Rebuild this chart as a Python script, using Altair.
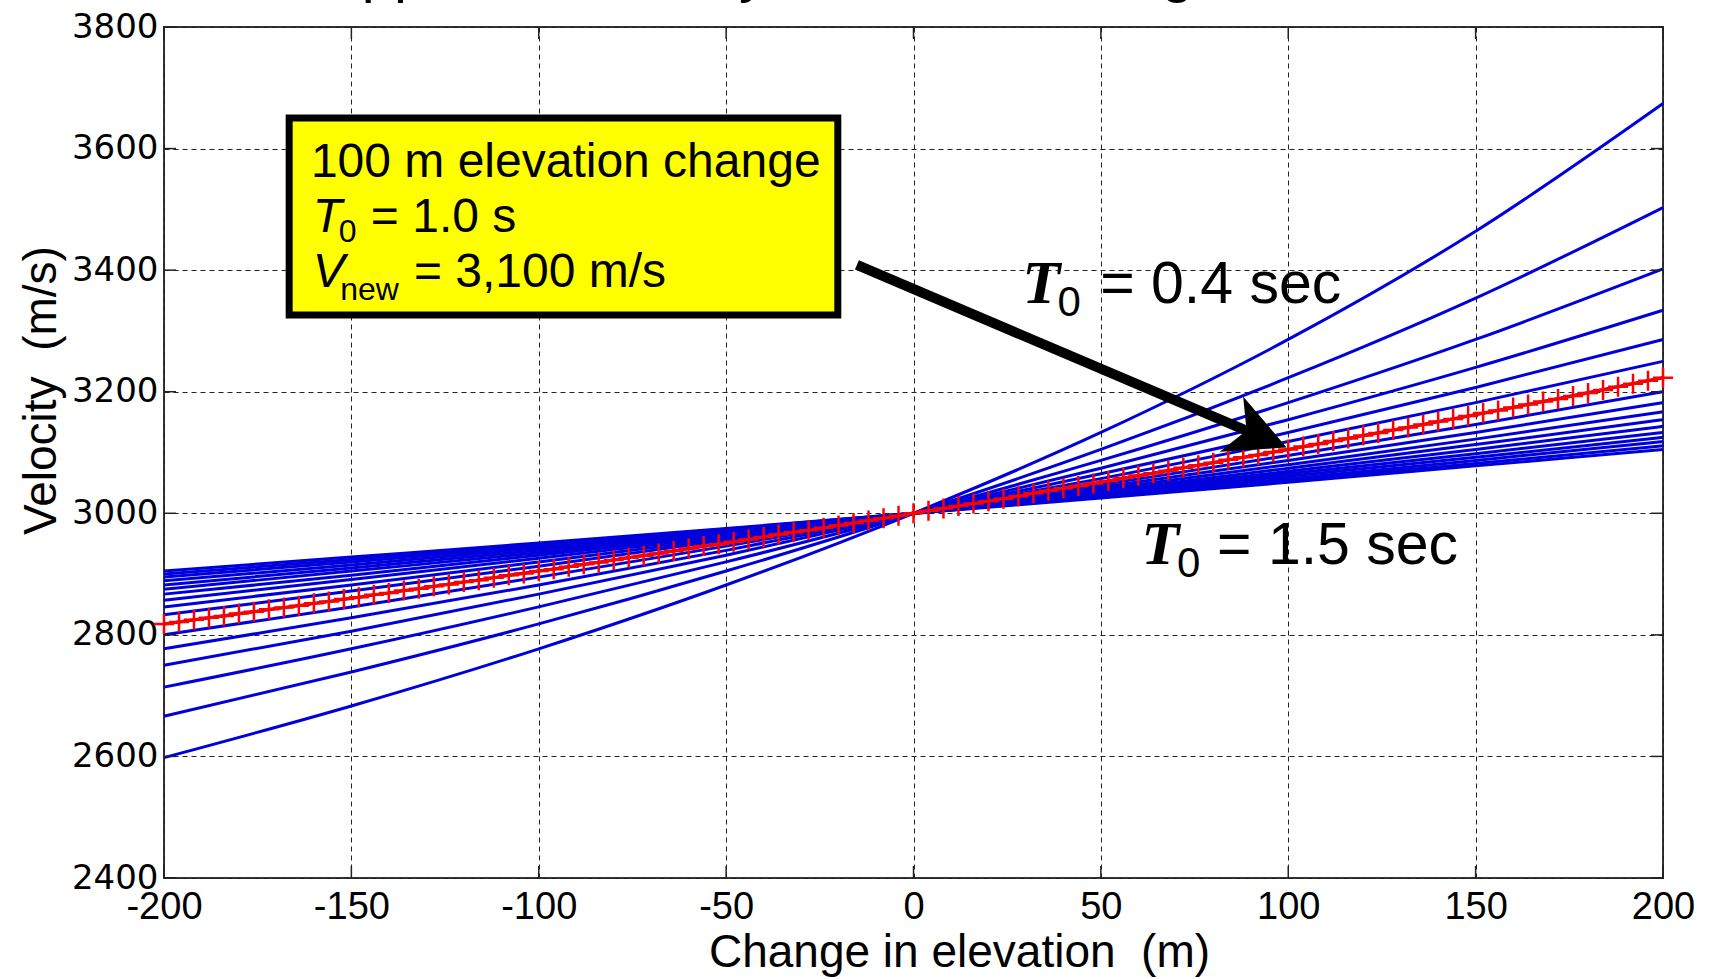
import altair as alt
import pandas as pd

# ---------------- data ----------------
x_pts = [-200, -150, -100, -50, 0, 50, 100, 150, 200]
t0_names = ["0.4", "0.5", "0.6", "0.7", "0.8", "0.9", "1.0", "1.1", "1.2",
            "1.3", "1.4", "1.5", "1.6", "1.7", "1.8", "1.9", "2.0"]
v04 = [2598, 2683, 2777, 2882, 3000, 3133, 3286, 3464, 3674]
v05 = [2666, 2739, 2818, 2905, 3000, 3105, 3223, 3354, 3503]
v06 = [2714, 2777, 2846, 2920, 3000, 3087, 3182, 3286, 3402]
v07 = [2750, 2806, 2867, 2931, 3000, 3074, 3154, 3240, 3334]
v08 = [2777, 2828, 2882, 2939, 3000, 3065, 3133, 3207, 3286]
v09 = [2800, 2846, 2895, 2946, 3000, 3057, 3118, 3182, 3250]
v10 = [2818, 2860, 2905, 2951, 3000, 3051, 3105, 3162, 3223]
v11 = [2833, 2872, 2913, 2956, 3000, 3047, 3095, 3146, 3200]
v12 = [2846, 2882, 2920, 2959, 3000, 3043, 3087, 3133, 3182]
v13 = [2857, 2891, 2926, 2962, 3000, 3039, 3080, 3122, 3167]
v14 = [2867, 2898, 2931, 2965, 3000, 3036, 3074, 3113, 3154]
v15 = [2875, 2905, 2935, 2967, 3000, 3034, 3069, 3105, 3143]
v16 = [2882, 2910, 2939, 2969, 3000, 3032, 3065, 3098, 3133]
v17 = [2889, 2915, 2943, 2971, 3000, 3030, 3061, 3092, 3125]
v18 = [2895, 2920, 2946, 2973, 3000, 3028, 3057, 3087, 3118]
v19 = [2900, 2924, 2949, 2974, 3000, 3027, 3054, 3082, 3111]
v20 = [2905, 2928, 2951, 2975, 3000, 3025, 3051, 3078, 3105]
blue_series = [v04, v05, v06, v07, v08, v09, v10, v11, v12, v13, v14,
               v15, v16, v17, v18, v19, v20]

red_x = list(range(-200, 204, 4))
red_v = [2818, 2821, 2825, 2828, 2831, 2835, 2838, 2842, 2845, 2848,
         2852, 2855, 2859, 2862, 2866, 2869, 2873, 2876, 2880, 2883,
         2887, 2890, 2894, 2898, 2901, 2905, 2908, 2912, 2916, 2919,
         2923, 2927, 2930, 2934, 2938, 2942, 2946, 2949, 2953, 2957,
         2961, 2965, 2969, 2972, 2976, 2980, 2984, 2988, 2992, 2996,
         3000, 3004, 3008, 3012, 3016, 3020, 3024, 3028, 3033, 3037,
         3041, 3045, 3049, 3053, 3058, 3062, 3066, 3070, 3075, 3079,
         3083, 3088, 3092, 3096, 3101, 3105, 3110, 3114, 3119, 3123,
         3128, 3132, 3137, 3141, 3146, 3151, 3155, 3160, 3165, 3169,
         3174, 3179, 3184, 3188, 3193, 3198, 3203, 3208, 3213, 3218, 3223]

x_ticks = [-200, -150, -100, -50, 0, 50, 100, 150, 200]
y_ticks = [2400, 2600, 2800, 3000, 3200, 3400, 3600, 3800]

# annotation anchors (data units)
box = {"x": [-166.6], "x2": [-20.2], "v": [3650.3], "v2": [3326.2]}
arrow_shaft = {"x": [-15.1, 91.5], "v": [3408.5, 3129.0]}
arrow_head = {"x": [92.2], "v": [3127.5]}

# ---------------- build tables ----------------
rows = []
for name, vals in zip(t0_names, blue_series):
    for xx, vv in zip(x_pts, vals):
        rows.append({"t0": name, "x": xx, "v": vv})
blue_df = pd.DataFrame(rows)
red_df = pd.DataFrame({"x": red_x, "v": red_v})

W, H = 1499, 851
xs = alt.Scale(domain=[-200, 200], nice=False, zero=False)
ys = alt.Scale(domain=[2400, 3800], nice=False, zero=False)

xaxis = alt.Axis(values=x_ticks, title="Change in elevation\u00a0 (m)", grid=True,
                 gridDash=[5, 4], gridColor="#222", gridWidth=1, domain=False,
                 ticks=False, tickSize=0, labelFont="Liberation Sans",
                 labelFontSize=38, labelPadding=10, labelColor="#000",
                 labelFlush=False, labelOverlap=False,
                 labelExpr="'' + datum.value",
                 titleFont="Liberation Sans", titleFontSize=46,
                 titleFontWeight="normal", titleColor="#000", titleX=795,
                 titleY=88, titleBaseline="alphabetic", titleAlign="center")
yaxis = alt.Axis(values=y_ticks, title="Velocity\u00a0 (m/s)", grid=True,
                 gridDash=[5, 4], gridColor="#222", gridWidth=1, domain=False,
                 ticks=False, tickSize=0, labelFont="DejaVu Sans",
                 labelFontSize=34, labelPadding=6, labelColor="#000",
                 labelFlush=False, labelOverlap=False,
                 labelExpr="'' + datum.value",
                 titleFont="Liberation Sans", titleFontSize=46,
                 titleFontWeight="normal", titleColor="#000", titleX=-109,
                 titleY=363, titleAngle=270, titleBaseline="alphabetic",
                 titleAlign="center")

X = alt.X("x:Q", scale=xs, axis=xaxis)
Y = alt.Y("v:Q", scale=ys, axis=yaxis)

blue = alt.Chart(blue_df).mark_line(color="#0000dd", strokeWidth=3,
                                    interpolate="monotone").encode(
    x=X, y=Y, detail="t0:N")

red_line = alt.Chart(red_df).mark_line(color="#ff0000", strokeWidth=3).encode(x=X, y=Y)
plus_path = "M-1,0L1,0M0,-1L0,1"
red_pts = alt.Chart(red_df).mark_point(shape=plus_path, size=400, filled=False,
                                       color="#ff0000", strokeWidth=2.5,
                                       opacity=1).encode(x=X, y=Y)

# tick marks pointing inwards on all four sides
xt_df = pd.DataFrame({"x": x_ticks})
yt_df = pd.DataFrame({"v": y_ticks})
tk = dict(color="#222", strokeWidth=1.5)
ticks_b = alt.Chart(xt_df).mark_rule(**tk).encode(x=X, y=alt.value(H - 12), y2=alt.value(H))
ticks_t = alt.Chart(xt_df).mark_rule(**tk).encode(x=X, y=alt.value(0), y2=alt.value(12))
ticks_l = alt.Chart(yt_df).mark_rule(**tk).encode(y=Y, x=alt.value(0), x2=alt.value(12))
ticks_r = alt.Chart(yt_df).mark_rule(**tk).encode(y=Y, x=alt.value(W - 12), x2=alt.value(W))

shaft = alt.Chart(pd.DataFrame(arrow_shaft)).mark_line(
    color="#000", strokeWidth=10, strokeCap="butt").encode(x=X, y=Y)
head_path = "M1,0L-1,-1L-0.45,0L-1,1Z"
head = alt.Chart(pd.DataFrame(arrow_head)).mark_point(
    shape=head_path, size=3600, filled=True, color="#000", opacity=1,
    strokeWidth=0, angle=23).encode(x=X, y=Y)

rect = alt.Chart(pd.DataFrame(box)).mark_rect(
    fill="#ffff00", stroke="#000", strokeWidth=7).encode(
    x=X, x2="x2:Q", y=Y, y2="v2:Q")


def txt(x, v, s, size, font="Liberation Sans", style="normal", weight="normal"):
    df = pd.DataFrame({"x": [x], "v": [v], "s": [s]})
    return alt.Chart(df).mark_text(align="left", baseline="alphabetic",
                                   font=font, fontSize=size, fontStyle=style,
                                   fontWeight=weight, color="#000").encode(
        x=X, y=Y, text="s:N")


texts = [
    txt(-160.8, 3553, "100 m elevation change", 48),
    txt(-160.3, 3463, "T", 48, style="italic"),
    txt(-153.4, 3446, "0", 32),
    txt(-144.8, 3463, "= 1.0 s", 48),
    txt(-160.3, 3372, "V", 48, style="italic"),
    txt(-153.0, 3351, "new", 32),
    txt(-133.3, 3372, "= 3,100 m/s", 48),
    txt(29.0, 3346, "T", 62, font="Liberation Serif", style="italic", weight="bold"),
    txt(38.4, 3324, "0", 42),
    txt(49.8, 3346, "= 0.4 sec", 59),
    txt(60.8, 2917, "T", 62, font="Liberation Serif", style="italic", weight="bold"),
    txt(70.3, 2895, "0", 42),
    txt(81.0, 2917, "= 1.5 sec", 59),
]

title_df = pd.DataFrame({"s": ["Apparent velocity vs datum change"]})
title = alt.Chart(title_df).mark_text(align="left", baseline="alphabetic",
                                      font="Liberation Sans", fontSize=58,
                                      color="#000").encode(
    x=alt.value(159), y=alt.value(-36), text="s:N")

chart = alt.layer(
    blue, red_line, red_pts, ticks_b, ticks_t, ticks_l, ticks_r,
    shaft, head, rect, *texts, title
).properties(
    width=W, height=H,
    autosize=alt.AutoSizeParams(type="none"),
    padding={"left": 164, "top": 27, "right": 48, "bottom": 101},
    background="#ffffff",
).configure_view(stroke="#333", strokeWidth=2)

chart.save("out.html", embed_options={"renderer": "svg", "actions": False})
